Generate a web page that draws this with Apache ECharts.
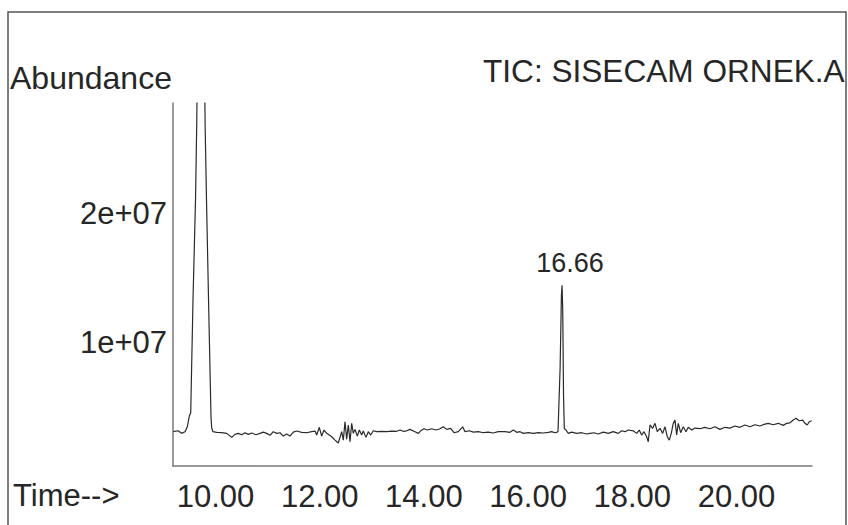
<!DOCTYPE html>
<html><head><meta charset="utf-8">
<script src="https://cdn.jsdelivr.net/npm/echarts@6/dist/echarts.min.js"></script>
<style>html,body{margin:0;padding:0;background:#fff}#c{width:848px;height:525px}</style>
</head><body><div id="c"></div>
<script>
// Retention time (min)
const timeMin = [
9.190, 9.280, 9.351, 9.415, 9.459, 9.497, 9.524, 9.568, 9.616, 9.640, 9.720, 9.800, 9.827, 9.866, 9.914, 9.927, 9.952,
10.023, 10.119, 10.215, 10.311, 10.374, 10.438, 10.503, 10.566, 10.630, 10.695, 10.777, 10.854, 10.917, 10.983, 11.046, 11.109, 11.175, 11.238, 11.301, 11.367, 11.430, 11.493, 11.559, 11.655, 11.750, 11.846, 11.910, 11.942, 11.992, 12.038, 12.083, 12.134, 12.184, 12.230, 12.294, 12.357,
12.422, 12.453, 12.486, 12.518, 12.549, 12.582, 12.614, 12.645, 12.678, 12.722, 12.760, 12.806, 12.837, 12.889, 12.933, 12.979, 13.029, 13.094, 13.190, 13.286, 13.382, 13.478, 13.541, 13.605, 13.670, 13.733, 13.829, 13.893, 13.939, 14.002, 14.065, 14.150, 14.232, 14.309, 14.372, 14.438, 14.514, 14.578, 14.660, 14.745, 14.789, 14.871, 14.948, 15.044, 15.140, 15.236, 15.332, 15.428,
15.557, 15.653, 15.716, 15.781, 15.845, 15.908, 16.004, 16.100, 16.196, 16.292, 16.388, 16.453, 16.516, 16.560,
16.575, 16.615, 16.640, 16.652, 16.665, 16.680, 16.695,
16.727, 16.772, 16.837, 16.933, 17.029, 17.125, 17.188, 17.265, 17.347, 17.443, 17.539, 17.635, 17.731, 17.797, 17.860, 17.923, 18.019, 18.084, 18.134, 18.180, 18.225, 18.276, 18.307,
18.340, 18.391, 18.436, 18.480, 18.532, 18.583, 18.628, 18.672, 18.710, 18.749, 18.787, 18.820, 18.852, 18.883, 18.929, 18.979, 19.031, 19.075, 19.140, 19.203, 19.299, 19.395, 19.491, 19.587, 19.683, 19.779, 19.875, 19.971, 20.067, 20.163, 20.259, 20.355, 20.451, 20.547, 20.610, 20.706, 20.802, 20.898, 20.964, 21.027, 21.090, 21.142, 21.205, 21.271, 21.315, 21.359, 21.397, 21.443
];
// Total ion current abundance, in millions
const abundanceMillions = [
3.05, 3.12, 2.92, 3.05, 3.43, 4.26, 4.50, 13.3, 21.0, 27.0, 60.0, 27.0, 21.0, 13.3, 4.10, 3.33, 3.05,
3.00, 2.97, 2.92, 2.61, 2.84, 2.92, 2.81, 2.97, 2.84, 2.95, 2.81, 2.92, 3.02, 2.92, 2.77, 3.05, 2.92, 2.97, 2.71, 2.87, 2.71, 3.02, 3.10, 3.00, 2.97, 3.05, 3.10, 2.79, 3.39, 2.71, 3.18, 2.92, 2.79, 2.66, 2.40, 2.17,
3.05, 2.40, 3.82, 2.46, 3.57, 2.27, 3.70, 2.92, 3.23, 2.71, 3.18, 2.79, 3.10, 2.61, 3.05, 2.79, 3.12, 3.05, 3.08, 3.05, 3.10, 3.08, 3.18, 3.08, 3.12, 3.23, 3.05, 2.92, 3.12, 3.28, 3.18, 3.28, 3.18, 3.28, 3.43, 3.23, 3.31, 2.97, 3.05, 3.43, 3.05, 3.12, 3.02, 3.05, 2.97, 3.02, 2.95, 3.05,
3.05, 3.00, 3.18, 3.00, 3.05, 2.92, 2.97, 2.92, 2.97, 2.95, 3.00, 3.05, 2.97, 3.02,
3.10, 8.0, 13.6, 14.4, 12.5, 6.0, 3.30,
3.18, 2.92, 3.02, 2.92, 2.97, 2.87, 2.92, 2.97, 2.87, 3.02, 2.92, 3.05, 2.92, 3.12, 3.05, 3.18, 3.12, 2.92, 3.18, 2.79, 3.05, 2.66, 2.27,
3.57, 3.31, 3.70, 3.05, 3.31, 2.92, 3.43, 2.66, 2.40, 2.92, 3.70, 3.95, 2.79, 3.70, 2.97, 3.43, 3.05, 3.39, 3.18, 3.33, 3.28, 3.39, 3.28, 3.43, 3.23, 3.39, 3.33, 3.49, 3.39, 3.57, 3.43, 3.59, 3.49, 3.64, 3.70, 3.59, 3.70, 3.54, 3.70, 3.74, 3.95, 4.09, 3.90, 3.95, 3.70, 3.57, 3.82, 3.90
];
const xTickValues = [10, 12, 14, 16, 18, 20];
const yTickValues = [1e7, 2e7];
const peakLabelTime = [16.652];
const peakLabelAbundanceMillions = [14.4];
const peakLabelText = ['16.66'];

const FONT = "'Liberation Sans', Arial, sans-serif";
const TXT = '#262626';
const data = timeMin.map((t, i) => [t, abundanceMillions[i] * 1e6]);

const chart = echarts.init(document.getElementById('c'), null, {renderer: 'svg'});
chart.setOption({
  animation: false,
  backgroundColor: '#fff',
  grid: {left: 173, top: 103, right: 36, bottom: 59, containLabel: false},
  xAxis: {
    type: 'value', min: 9.184, max: 21.45,
    axisLine: {show: true, lineStyle: {color: '#7a7a7a', width: 1.5}},
    axisTick: {show: false},
    splitLine: {show: false},
    axisLabel: {
      customValues: xTickValues, margin: 15,
      fontFamily: FONT, fontSize: 31, color: TXT,
      formatter: v => v.toFixed(2)
    }
  },
  yAxis: {
    type: 'value', min: 0.39e6, max: 28.53e6,
    axisLine: {show: true, lineStyle: {color: '#7a7a7a', width: 1.5}},
    axisTick: {show: false},
    splitLine: {show: false},
    axisLabel: {
      customValues: yTickValues, margin: 6,
      fontFamily: FONT, fontSize: 31, color: TXT,
      formatter: v => (v / 1e7).toFixed(0) + 'e+07'
    }
  },
  series: [{
    type: 'line', data: data, showSymbol: false, clip: true,
    lineStyle: {color: '#2a2a2a', width: 1.2},
    markPoint: {
      symbol: 'circle', symbolSize: 1,
      itemStyle: {color: 'rgba(0,0,0,0)'},
      label: {show: true, position: 'top', distance: 8, offset: [8, 0],
        fontFamily: FONT, fontSize: 27, color: TXT,
        formatter: p => p.name},
      data: peakLabelTime.map((t, i) => ({name: peakLabelText[i], coord: [t, peakLabelAbundanceMillions[i] * 1e6]}))
    }
  }],
  graphic: [
    {type: 'rect', silent: true, shape: {x: 8, y: 12, width: 838, height: 530},
      style: {fill: 'none', stroke: '#555', lineWidth: 1.5}},
    {type: 'text', silent: true, style: {text: 'Abundance', x: 10, y: 78, textVerticalAlign: 'middle',
      font: "32px 'Liberation Sans', Arial, sans-serif", fill: TXT}},
    {type: 'text', silent: true, style: {text: 'TIC: SISECAM ORNEK.A', x: 483, y: 71, textVerticalAlign: 'middle',
      font: "31.6px 'Liberation Sans', Arial, sans-serif", fill: TXT}},
    {type: 'text', silent: true, style: {text: 'Time-->', x: 13, y: 495, textVerticalAlign: 'middle',
      font: "31px 'Liberation Sans', Arial, sans-serif", fill: TXT}}
  ]
});
</script>
</body></html>
